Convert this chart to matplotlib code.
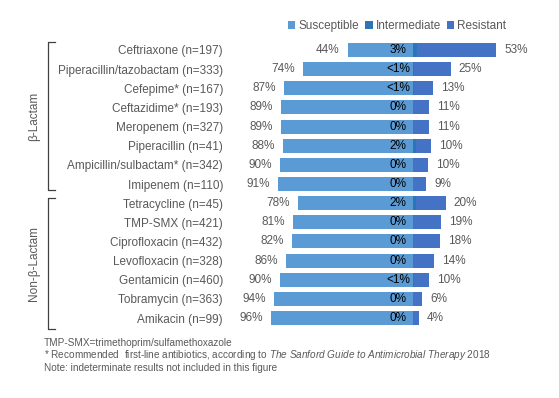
import numpy as np
import matplotlib
matplotlib.use("Agg")
import matplotlib.pyplot as plt
from matplotlib.lines import Line2D

plt.rcParams['font.family'] = ['Liberation Sans', 'DejaVu Sans']
plt.rcParams['mathtext.fontset'] = 'custom'
plt.rcParams['mathtext.it'] = 'Liberation Sans:italic'
plt.rcParams['mathtext.rm'] = 'Liberation Sans'

drugs = ["Ceftriaxone (n=197)", "Piperacillin/tazobactam (n=333)", "Cefepime* (n=167)",
         "Ceftazidime* (n=193)", "Meropenem (n=327)", "Piperacillin (n=41)",
         "Ampicillin/sulbactam* (n=342)", "Imipenem (n=110)", "Tetracycline (n=45)",
         "TMP-SMX (n=421)", "Ciprofloxacin (n=432)", "Levofloxacin (n=328)",
         "Gentamicin (n=460)", "Tobramycin (n=363)", "Amikacin (n=99)"]
susceptible = [44, 74, 87, 89, 89, 88, 90, 91, 78, 81, 82, 86, 90, 94, 96]
# 0.5 stands for "<1%"
intermediate = [3, 0.5, 0.5, 0, 0, 2, 0, 0, 2, 0, 0, 0, 0.5, 0, 0]
resistant = [53, 25, 13, 11, 11, 10, 10, 9, 20, 19, 18, 14, 10, 6, 4]

c_s = "#5B9BD5"
c_i = "#2E75B6"
c_r = "#4472C4"
grey = "#595959"

W, H = 559, 398
fig = plt.figure(figsize=(W / 100, H / 100), dpi=100)
ax = fig.add_axes([228 / W, 1 - 327.6 / H, (540 - 228) / W, (327.6 - 40.4) / H])

y = np.arange(len(drugs))
s = np.array(susceptible)
i_ = np.array(intermediate)
r = np.array(resistant)

ax.barh(y, -s, height=0.73, color=c_s, label="Susceptible")
ax.barh(y, i_, height=0.73, color=c_i, label="Intermediate")
ax.barh(y, r, left=i_, height=0.73, color=c_r, label="Resistant")

for k in range(len(drugs)):
    ax.text(-s[k] - 5.5, y[k], f"{susceptible[k]}%", ha="right", va="center",
            fontsize=8.5, color=grey)
    ax.text(i_[k] + r[k] + 5.5, y[k], f"{resistant[k]}%", ha="left", va="center",
            fontsize=8.5, color=grey)
    mid = "<1%" if 0 < intermediate[k] < 1 else f"{intermediate[k]}%"
    ax.text(-10, y[k], mid, ha="center", va="center", fontsize=8.5, color="black")

ax.set_xlim(-125, 85.8)
ax.set_ylim(len(drugs) - 0.5, -0.5)
ax.set_yticks(y)
ax.set_yticklabels(drugs, fontsize=8.5, color=grey)
ax.tick_params(axis="y", length=0, pad=3.6)
ax.set_xticks([])
for sp in ax.spines.values():
    sp.set_visible(False)

fig.legend(loc="center", bbox_to_anchor=(397 / W, 1 - 26 / H), ncol=3, frameon=False,
           fontsize=8.5, labelcolor=grey, handlelength=0.65, handleheight=0.65,
           handletextpad=0.25, columnspacing=0.5)

# group brackets
def bracket(top, bottom, text):
    xs = [55 / W, 48 / W, 48 / W, 55 / W]
    ys = [1 - top / H, 1 - top / H, 1 - bottom / H, 1 - bottom / H]
    fig.add_artist(Line2D(xs, ys, color="#404040", lw=0.9))
    fig.text(34 / W, 1 - (top + bottom) / 2 / H, text, rotation=90, ha="center",
             va="center", fontsize=8.5, color=grey)

bracket(42, 190, "β-Lactam")
bracket(198, 329, "Non-β-Lactam")

fs = 7.2
fig.text(44 / W, 1 - 343 / H, "TMP-SMX=trimethoprim/sulfamethoxazole", fontsize=fs,
         color=grey, va="center")
fig.text(44 / W, 1 - 355.5 / H,
         "* Recommended  first-line antibiotics, according to "
         "$\\it{The\\ Sanford\\ Guide\\ to\\ Antimicrobial\\ Therapy\\ 2018}$",
         fontsize=fs, color=grey, va="center")
fig.text(44 / W, 1 - 368 / H, "Note: indeterminate results not included in this figure",
         fontsize=fs, color=grey, va="center")

fig.savefig("out.png", dpi=100)
